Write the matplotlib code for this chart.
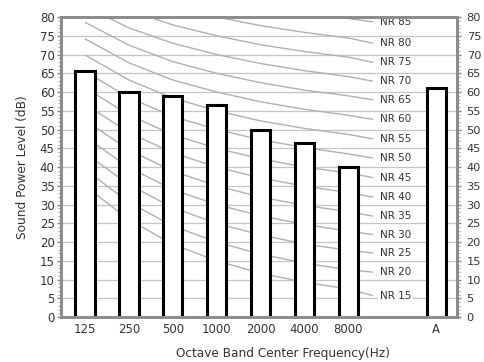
import matplotlib.pyplot as plt
from matplotlib.ticker import MultipleLocator

# octave bands + overall A-weighted level
bands = ['125', '250', '500', '1000', '2000', '4000', '8000']
levels = [65.5, 60.0, 59.0, 56.5, 50.0, 46.5, 40.0]
a_label = 'A'
a_level = 61.2

# NR curves: level at 125..8000 Hz, then level where the curve meets its label
nr_names = [15, 20, 25, 30, 35, 40, 45, 50, 55, 60, 65, 70, 75, 80, 85]
nr_values = {
    15: [35.0, 26.0, 19.4, 15.0, 11.7, 9.3, 7.5],
    20: [39.4, 30.6, 24.3, 20.0, 16.8, 14.4, 12.6],
    25: [43.8, 35.3, 29.2, 25.0, 21.9, 19.5, 17.8],
    30: [48.1, 39.9, 34.0, 30.0, 27.0, 24.7, 22.9],
    35: [52.5, 44.6, 38.9, 35.0, 32.0, 29.8, 28.1],
    40: [56.8, 49.2, 43.8, 40.0, 37.1, 34.9, 33.2],
    45: [61.2, 53.9, 48.6, 45.0, 42.2, 40.0, 38.4],
    50: [65.5, 58.5, 53.5, 50.0, 47.3, 45.2, 43.5],
    55: [69.9, 63.2, 58.4, 55.0, 52.3, 50.3, 48.7],
    60: [74.2, 67.8, 63.2, 60.0, 57.4, 55.4, 53.8],
    65: [78.6, 72.5, 68.1, 65.0, 62.5, 60.5, 59.0],
    70: [82.9, 77.1, 73.0, 70.0, 67.6, 65.7, 64.1],
    75: [87.3, 81.8, 77.9, 75.0, 72.6, 70.8, 69.3],
    80: [91.6, 86.4, 82.7, 80.0, 77.7, 75.9, 74.4],
    85: [96.0, 91.1, 87.6, 85.0, 82.8, 81.0, 79.6],
}
nr_label_level = [5.7, 12.0, 17.1, 22.0, 26.9, 32.0, 37.2, 42.4, 47.5, 52.7, 57.9, 62.9, 67.9, 73.0, 78.7]

txt = '#333333'
plt.rcParams['font.family'] = 'DejaVu Sans'
plt.rcParams['font.size'] = 8.5

fig = plt.figure(figsize=(4.84, 3.62), dpi=100)
ax = fig.add_axes([0.127, 0.124, 0.817, 0.829])

x = list(range(len(bands)))
x_a = 8
x_end = 6.56

# grid
for v in range(5, 80, 5):
    ax.axhline(v, color='#c4c4c4', lw=0.9, zorder=1)

# NR curves
for n, lab_y in zip(nr_names, nr_label_level):
    ys = nr_values[n] + [lab_y]
    xs = x + [x_end]
    ax.plot(xs, ys, color='#b0b0b0', lw=1.0, zorder=2, solid_capstyle='butt')
    ax.text(6.72, lab_y, 'NR %d' % n, color=txt, fontsize=7.5, va='center', ha='left',
            bbox=dict(facecolor='white', edgecolor='none', pad=1.2), zorder=3)

# bars
ax.bar(x, levels, width=0.44, color='white', edgecolor='black', linewidth=2.2, zorder=4)
ax.bar([x_a], [a_level], width=0.44, color='white', edgecolor='black', linewidth=2.2, zorder=4)

ax.set_xlim(-0.535, 8.47)
ax.set_ylim(0, 80)
ax.set_xticks(x + [x_a])
ax.set_xticklabels(bands + [a_label], color=txt)
ax.tick_params(axis='x', length=0, pad=4)

ax.yaxis.set_major_locator(MultipleLocator(5))
ax.yaxis.set_minor_locator(MultipleLocator(1))
ax.tick_params(axis='y', which='major', direction='out', length=3, width=1, color='#888888',
               labelcolor=txt, left=True, right=False, pad=2)
ax.tick_params(axis='y', which='minor', direction='out', length=2, width=0.6, color='#999999',
               left=True, right=False)

# right-hand scale
ax2 = ax.twinx()
ax2.set_ylim(0, 80)
ax2.yaxis.set_major_locator(MultipleLocator(5))
ax2.yaxis.set_minor_locator(MultipleLocator(1))
ax2.tick_params(axis='y', which='major', direction='out', length=3, width=1, color='#888888',
                labelcolor=txt, labelsize=8.2, pad=4)
ax2.tick_params(axis='y', which='minor', direction='out', length=2, width=0.6, color='#999999')

for a in (ax, ax2):
    for s in a.spines.values():
        s.set_color('#8c8c8c')
        s.set_linewidth(2.0)
        s.set_zorder(5)

ax.set_ylabel('Sound Power Level (dB)', color=txt, fontsize=8.7, labelpad=8)
ax.set_xlabel('Octave Band Center Frequency(Hz)', color=txt, fontsize=8.7)
ax.xaxis.set_label_coords(0.56, -0.1)

fig.savefig('out.png', dpi=100)
